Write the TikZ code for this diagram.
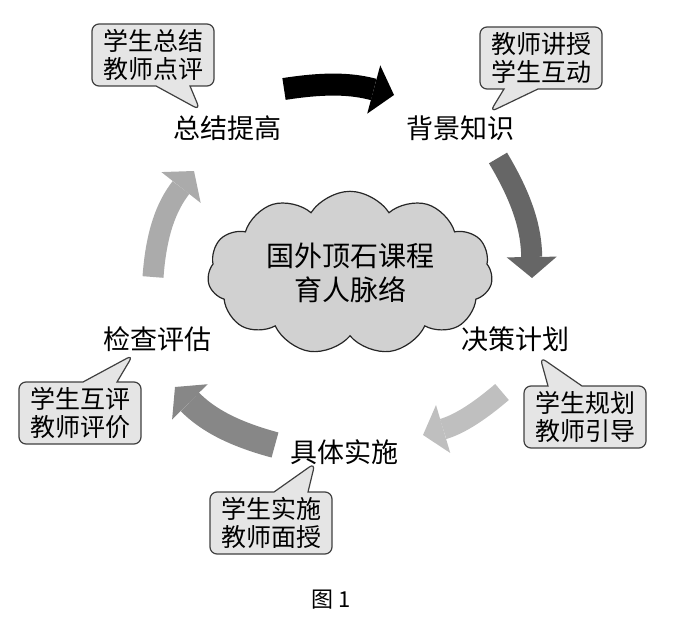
\documentclass[tikz,border=0pt]{standalone}
\usepackage{fontspec}
\newfontfamily\cjk{Noto Sans CJK SC}
\usetikzlibrary{arrows.meta,shapes.symbols,shapes.callouts}

\definecolor{bubblefill}{gray}{0.9}
\definecolor{cloudfill}{gray}{0.82}

\tikzstyle{stage} = [font=\cjk\fontsize{27}{30}\selectfont, inner sep=0pt]
\tikzstyle{bubble} = [rectangle callout, rounded corners=7pt, draw=black!75, line width=1.2pt, fill=bubblefill, minimum width=122pt, minimum height=62pt, inner sep=2pt, callout pointer width=34pt, align=center, font=\cjk\fontsize{25}{28}\selectfont]
\tikzstyle{flowarrow} = [line width=21pt, -{Triangle[length=21pt,width=50pt,line width=0pt]}]

\begin{document}
\begin{tikzpicture}[x=1pt,y=1pt]
\useasboundingbox (0,0) rectangle (700,633);

\node [cloud, cloud puffs=11, cloud puff arc=115, aspect=1.8, draw=black!85, line width=1.2pt, fill=cloudfill, minimum width=285pt, minimum height=157pt, inner sep=0pt, align=center, font=\cjk\fontsize{28}{34}\selectfont] (core) at (350,360) {国外顶石课程\\育人脉络};

\node [stage] (zj) at (227,505) {总结提高};
\node [stage] (bj) at (460,505) {背景知识};
\node [stage] (jc) at (515,294) {决策计划};
\node [stage] (ss) at (344,181) {具体实施};
\node [stage] (jg) at (157,294) {检查评估};

\node [bubble, callout absolute pointer={(200,523)}] (b1) at (153,578) {学生总结\\教师点评};
\node [bubble, callout absolute pointer={(490,521)}] (b2) at (541,575) {教师讲授\\学生互动};
\node [bubble, callout absolute pointer={(540,276)}] (b3) at (585,216) {学生规划\\教师引导};
\node [bubble, callout absolute pointer={(133,278)}] (b4) at (80,220) {学生互评\\教师评价};
\node [bubble, callout absolute pointer={(315,170)}] (b5) at (271,110) {学生实施\\教师面授};

\coordinate (s1) at (284,544);
\coordinate (e1) at (394,538);
\coordinate (s2) at (498,475);
\coordinate (e2) at (532,355);
\coordinate (s3) at (502,241);
\coordinate (e3) at (423,198);
\coordinate (s4) at (275,188);
\coordinate (e4) at (175,246);
\coordinate (s5) at (153,356);
\coordinate (e5) at (194,462);

\draw [flowarrow, black, line width=22pt] (s1) to[bend left=12] (e1);
\draw [flowarrow, black!60] (s2) to[bend left=15] (e2);
\draw [flowarrow, black!25] (s3) to[bend left=12] (e3);
\draw [flowarrow, black!47, line width=26pt] (s4) to[bend left=15] (e4);
\draw [flowarrow, black!33] (s5) to[bend left=17] (e5);

\node [font=\cjk\fontsize{22}{24}\selectfont] (fig) at (331,33) {图 1};
\end{tikzpicture}
\end{document}
